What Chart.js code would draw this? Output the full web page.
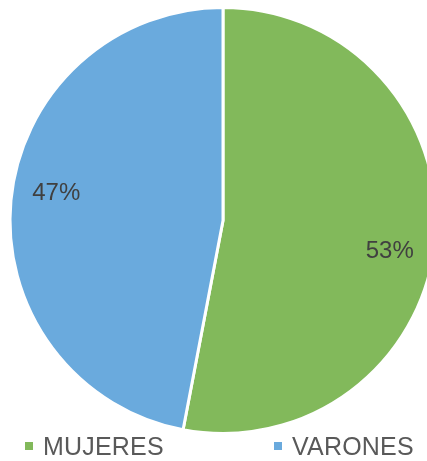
<!DOCTYPE html>
<html>
<head>
<meta charset="utf-8">
<script src="https://cdn.jsdelivr.net/npm/chart.js@4"></script>
<style>
  html, body { margin: 0; padding: 0; background: #fff; overflow: hidden; width: 427px; height: 461px; }
  #wrap { position: absolute; left: 0; top: 0; width: 446px; height: 441px; }
  #legend {
    position: absolute; top: 432px; left: 0; width: 427px; height: 29px;
    font-family: "Liberation Sans", Arial, sans-serif; font-size: 25px; color: #595959;
    letter-spacing: 0.2px;
  }
  .item { position: absolute; top: 0; height: 29px; line-height: 29px; white-space: nowrap; }
  .box { position: absolute; left: 0; top: 10px; width: 8px; height: 8px; }
  .txt { position: absolute; left: 18px; top: 0; }
</style>
</head>
<body>
<div id="wrap"><canvas id="genderPie" width="446" height="441"></canvas></div>
<div id="legend"></div>
<script>
const categories = ['MUJERES', 'VARONES'];
const shares = [53, 47];
const sliceColors = ['#82B95B', '#6AAADD'];
const legendLefts = [25, 274];

// percentage text inside each slice
const sliceLabels = {
  id: 'sliceLabels',
  afterDatasetsDraw(chart) {
    let ctx = chart.ctx;
    let arcs = chart.getDatasetMeta(0).data;
    ctx.save();
    ctx.font = '24px "Liberation Sans", Arial, sans-serif';
    ctx.fillStyle = '#404040';
    ctx.textAlign = 'center';
    ctx.textBaseline = 'alphabetic';
    arcs.forEach(function (arc, i) {
      let p = arc.getProps(['x', 'y', 'startAngle', 'endAngle', 'outerRadius'], true);
      let mid = (p.startAngle + p.endAngle) / 2 + 0.08;
      let r = p.outerRadius * 0.795;
      ctx.fillText(shares[i] + '%', p.x + Math.cos(mid) * r, p.y + Math.sin(mid) * r + 8.5);
    });
    ctx.restore();
  }
};

let pieCtx = document.getElementById('genderPie').getContext('2d');

let genderPie = new Chart(pieCtx, {
  type: 'pie',
  data: {
    labels: categories,
    datasets: [{
      data: shares,
      backgroundColor: sliceColors,
      borderColor: '#ffffff',
      borderWidth: 3
    }]
  },
  options: {
    responsive: false,
    animation: false,
    devicePixelRatio: 1,
    layout: { padding: 6 },
    plugins: {
      legend: { display: false },
      tooltip: { enabled: false }
    }
  },
  plugins: [sliceLabels]
});

// legend under the pie
let legend = document.getElementById('legend');
categories.forEach(function (name, i) {
  let item = document.createElement('div');
  item.className = 'item';
  item.style.left = legendLefts[i] + 'px';
  let box = document.createElement('span');
  box.className = 'box';
  box.style.background = sliceColors[i];
  let txt = document.createElement('span');
  txt.className = 'txt';
  txt.textContent = name;
  item.appendChild(box);
  item.appendChild(txt);
  legend.appendChild(item);
});
</script>
</body>
</html>
